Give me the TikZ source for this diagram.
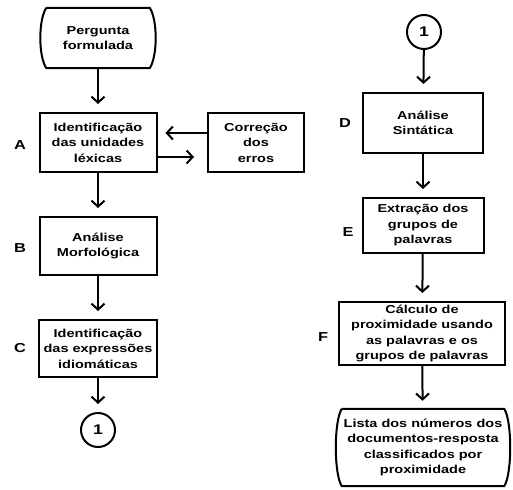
\documentclass[tikz,border=0pt]{standalone}
\usepackage{fontspec}
\setmainfont{Liberation Sans}[FakeStretch=1.26]
\usetikzlibrary{arrows.meta}

\begin{document}
\begin{tikzpicture}
[x=1pt,y=-1pt,
  font=\bfseries\fontsize{11.5}{15.5}\selectfont,
  boxDecorate/.style={shape=rectangle,draw,line width=2pt,align=center,inner sep=0pt},
  termDecorate/.style={shape=rectangle,align=center,inner sep=0pt},
  connDecorate/.style={shape=circle,draw,line width=2pt,minimum size=34pt,inner sep=0pt,
    font=\bfseries\fontsize{14}{14}\selectfont},
  tagDecorate/.style={inner sep=0pt,font=\bfseries\fontsize{13}{13}\selectfont},
  lineDecorate/.style={-{Straight Barb[length=6pt,width=13pt]},line width=2pt,shorten >=8pt}]
\useasboundingbox (0,0) rectangle (513,489);
%% boxes
\foreach \nodename/\x/\y/\w/\h/\txt in {
  A/98/142.5/117/59/{Identificação\\das unidades\\léxicas},
  Corr/256/142.5/96/59/{Correção\\dos\\erros},
  B/98/246/117/58/{Análise\\Morfológica},
  C/98/348.5/118/57/{Identificação\\das expressões\\idiomáticas},
  D/423/123/120/60/{Análise\\Sintática},
  E/423/225.5/121/55/{Extração dos\\grupos de\\palavras},
  F/422/333.5/166/63/{Cálculo de\\proximidade usando\\as palavras e os\\grupos de palavras}}
{
  \node (\nodename) at (\x,\y) [boxDecorate,minimum width=\w,minimum height=\h] {\txt};
}
%% start and end
\node (Perg) at (98,38) [termDecorate,minimum width=103,minimum height=60] {Pergunta\\formulada};
\node (Lista) at (423,447.5) [termDecorate,minimum width=162,minimum height=77]
  {Lista dos números dos\\documentos-resposta\\classificados por\\proximidade};
\foreach \nodename in {Perg,Lista}
{
  \draw[line width=2pt] (\nodename.north west) -- (\nodename.north east)
    .. controls +(8,12) and +(8,-12) .. (\nodename.south east)
    -- (\nodename.south west)
    .. controls +(-8,-12) and +(-8,12) .. (\nodename.north west);
}
%% connectors
\node (c1) at (98,430) [connDecorate] {1};
\node (c2) at (424,32) [connDecorate] {1};
%% letters
\foreach \nodename/\x/\y/\txt in {
  tA/20/145/A, tB/20/248/B, tC/20/348/C, tD/345/123/D, tE/348/232/E, tF/323/337/F}
{
  \node (\nodename) at (\x,\y) [tagDecorate] {\txt};
}
%% edges
\path
\foreach \startnode/\endnode in {
  Perg/A, A/B, B/C, C/c1, c2/D, D/E, E/F, F/Lista}
{
  (\startnode) edge[lineDecorate] (\endnode)
};
\draw[lineDecorate] ([yshift=9.5pt]Corr.west) -- ([yshift=9.5pt]A.east);
\draw[lineDecorate,shorten >=13pt] ([yshift=-14.5pt]A.east) -- ([yshift=-14.5pt]Corr.west);
\end{tikzpicture}
\end{document}
